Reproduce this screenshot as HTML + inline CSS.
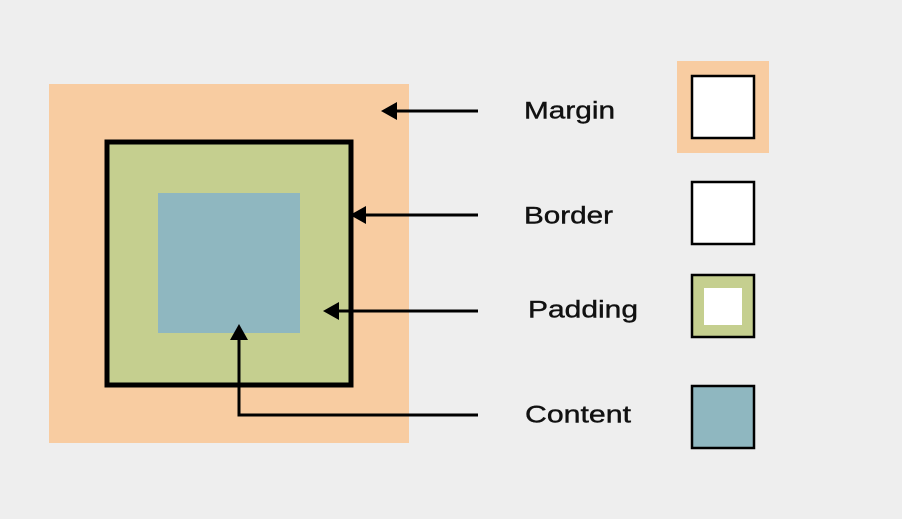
<!DOCTYPE html>
<html><head><meta charset="utf-8"><style>
html,body{margin:0;padding:0;background:#eeeeee;}
svg{display:block;}
text{font-family:"Liberation Sans",sans-serif;font-size:24px;fill:#111;dominant-baseline:middle;stroke:#111;stroke-width:0.4;}
</style></head><body>
<svg width="902" height="519" viewBox="0 0 902 519">
<rect x="0" y="0" width="902" height="519" fill="#eeeeee"/>
<rect x="49" y="84" width="360" height="359" fill="#f8cca1"/>
<rect x="107" y="142" width="244" height="243" fill="#c5cf8f" stroke="#000" stroke-width="5"/>
<rect x="158" y="193" width="142" height="140" fill="#8fb7c0"/>
<g stroke="#000" stroke-width="3" fill="none">
<path d="M478,111 L392,111"/>
<path d="M478,215 L362,215"/>
<path d="M478,311 L335,311"/>
<path d="M478,415 L239,415 L239,337"/>
</g>
<g fill="#000">
<polygon points="381,111 397,102 397,120"/>
<polygon points="350,215 366,206 366,224"/>
<polygon points="323,311 339,302 339,320"/>
<polygon points="239,324 230,340 248,340"/>
</g>
<text x="524" y="112" textLength="91" lengthAdjust="spacingAndGlyphs">Margin</text>
<text x="524" y="217" textLength="89" lengthAdjust="spacingAndGlyphs">Border</text>
<text x="528" y="311" textLength="110" lengthAdjust="spacingAndGlyphs">Padding</text>
<text x="525" y="416" textLength="106" lengthAdjust="spacingAndGlyphs">Content</text>
<rect x="677" y="61" width="92" height="92" fill="#f8cca1"/>
<rect x="692" y="76" width="62" height="62" fill="#fff" stroke="#000" stroke-width="2.5"/>
<rect x="692" y="182" width="62" height="62" fill="#fff" stroke="#000" stroke-width="2.5"/>
<rect x="692" y="275" width="62" height="62" fill="#c5cf8f" stroke="#000" stroke-width="2.5"/>
<rect x="704" y="288" width="38" height="37" fill="#fff"/>
<rect x="692" y="386" width="62" height="62" fill="#8fb7c0" stroke="#000" stroke-width="2.5"/>
</svg>
</body></html>
